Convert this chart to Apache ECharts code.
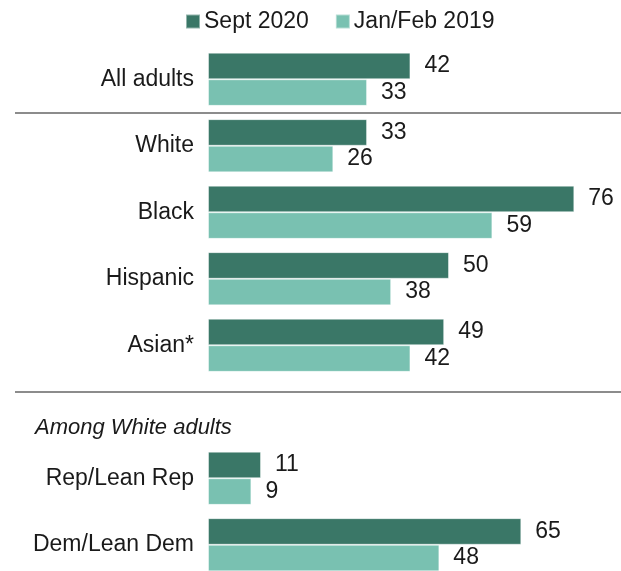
<!DOCTYPE html>
<html>
<head>
<meta charset="utf-8">
<script src="https://cdn.jsdelivr.net/npm/echarts@6/dist/echarts.min.js"></script>
<style>
html,body{margin:0;padding:0;background:#fff;}
#chart{width:621px;height:571px;}
</style>
</head>
<body>
<div id="chart"></div>
<script>
var categories = ['All adults', 'White', 'Black', 'Hispanic', 'Asian*', '', 'Rep/Lean Rep', 'Dem/Lean Dem'];
var seriesNames = ['Sept 2020', 'Jan/Feb 2019'];
var sept2020 = [42, 33, 76, 50, 49, null, 11, 65];
var janFeb2019 = [33, 26, 59, 38, 42, null, 9, 48];
var subgroupLabel = 'Among White adults';

var FONT = '"Liberation Sans", Arial, sans-serif';
var TXT = '#1a1a1a';

var chart = echarts.init(document.getElementById('chart'));

var labelCfg = {
  show: true,
  position: 'right',
  distance: 14,
  fontSize: 23,
  fontFamily: FONT,
  color: TXT
};

chart.setOption({
  animation: false,
  legend: {
    data: seriesNames,
    left: 180,
    top: 5,
    icon: 'rect',
    itemWidth: 14,
    itemHeight: 14,
    itemGap: 26,
    textStyle: { fontSize: 23, fontFamily: FONT, color: TXT, padding: [0, 0, 0, -1] }
  },
  grid: { left: 208, right: 27.4, top: 46, height: 532, outerBoundsMode: 'none', containLabel: false },
  xAxis: { type: 'value', min: 0, max: 80, show: false },
  yAxis: {
    type: 'category',
    inverse: true,
    data: categories,
    axisLine: { show: false },
    axisTick: { show: false },
    splitLine: { show: false },
    axisLabel: { fontSize: 23, fontFamily: FONT, color: TXT, margin: 14 }
  },
  series: [
    {
      name: seriesNames[0], type: 'bar', data: sept2020,
      barGap: '0%', barCategoryGap: '20%',
      itemStyle: { color: '#3a7767', borderColor: 'rgba(255,255,255,0.45)', borderWidth: 1 },
      label: labelCfg
    },
    {
      name: seriesNames[1], type: 'bar', data: janFeb2019,
      barGap: '0%', barCategoryGap: '20%',
      itemStyle: { color: '#79c1b1', borderColor: 'rgba(255,255,255,0.45)', borderWidth: 1 },
      label: labelCfg
    }
  ]
});

var p0 = chart.convertToPixel({ yAxisIndex: 0 }, 0);
var p1 = chart.convertToPixel({ yAxisIndex: 0 }, 1);
var p4 = chart.convertToPixel({ yAxisIndex: 0 }, 4);
var p5 = chart.convertToPixel({ yAxisIndex: 0 }, 5);
var band = p1 - p0;
var sep1 = Math.round((p0 + p1) / 2);
var sep2 = Math.round(p4 + band * 0.7);

chart.setOption({
  graphic: [
    { type: 'line', shape: { x1: 15, y1: sep1, x2: 621, y2: sep1 }, style: { stroke: '#8c8c8c', lineWidth: 2 } },
    { type: 'line', shape: { x1: 15, y1: sep2, x2: 621, y2: sep2 }, style: { stroke: '#8c8c8c', lineWidth: 2 } },
    { type: 'text', x: 35, y: p5 + 16, style: { text: subgroupLabel, fontSize: 22, fontStyle: 'italic', fontFamily: FONT, fill: TXT, textVerticalAlign: 'middle' } }
  ]
});
</script>
</body>
</html>
